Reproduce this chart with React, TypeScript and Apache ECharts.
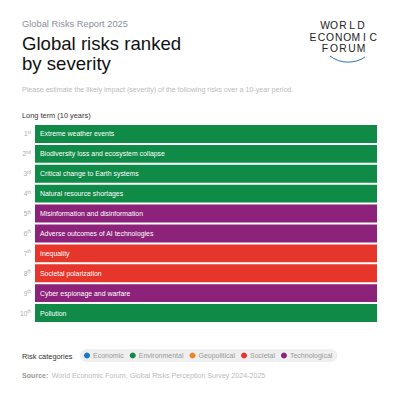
import React, { useEffect, useRef } from "react";
import * as echarts from "echarts";

const rankLabels = ["1st", "2nd", "3rd", "4th", "5th", "6th", "7th", "8th", "9th", "10th"];
const riskNames = [
  "Extreme weather events",
  "Biodiversity loss and ecosystem collapse",
  "Critical change to Earth systems",
  "Natural resource shortages",
  "Misinformation and disinformation",
  "Adverse outcomes of AI technologies",
  "Inequality",
  "Societal polarization",
  "Cyber espionage and warfare",
  "Pollution",
];
const riskCategories = [
  "Environmental",
  "Environmental",
  "Environmental",
  "Environmental",
  "Technological",
  "Technological",
  "Societal",
  "Societal",
  "Technological",
  "Environmental",
];
const barValues = [1, 1, 1, 1, 1, 1, 1, 1, 1, 1];
const categoryNames = ["Economic", "Environmental", "Geopolitical", "Societal", "Technological"];
const categoryColors = ["#1f74c4", "#0f8a47", "#ef8427", "#e6352b", "#8c2279"];

const FONT = "'Liberation Sans', Arial, Helvetica, sans-serif";

function logoLetters(word: string, cx: number, y: number, pitch: number) {
  const n = word.length;
  return word.split("").map((ch, i) => ({
    type: "text",
    x: cx + (i - (n - 1) / 2) * pitch,
    y,
    style: {
      text: ch,
      fill: "#222",
      font: `10.3px ${FONT}`,
      textAlign: "center",
      textVerticalAlign: "middle",
    },
  }));
}

export default function App() {
  const ref = useRef<HTMLDivElement>(null);
  useEffect(() => {
    if (!ref.current) return;
    const chart = echarts.init(ref.current, null, { renderer: "svg" });
    const series = categoryNames.map((cat, ci) => ({
      name: cat,
      type: "bar",
      stack: "all",
      barCategoryGap: "10%",
      itemStyle: { color: categoryColors[ci] },
      data: barValues.map((v, i) => (riskCategories[i] === cat ? v : "-")),
      label: {
        show: true,
        position: "insideLeft",
        distance: 5,
        color: "#fff",
        fontSize: 6.9,
        fontFamily: FONT,
        formatter: (p: any) => riskNames[p.dataIndex],
      },
    }));
    chart.setOption({
      animation: false,
      backgroundColor: "#fff",
      grid: { left: 35, right: 23, top: 124, bottom: 77 },
      xAxis: { type: "value", min: 0, max: 1, show: false },
      yAxis: {
        type: "category",
        inverse: true,
        data: rankLabels,
        axisLine: { show: false },
        axisTick: { show: false },
        axisLabel: {
          margin: 4,
          formatter: (v: string) => {
            const m = v.match(/^(\d+)(\D+)$/);
            return m ? `{n|${m[1]}}{s|${m[2]}}` : v;
          },
          rich: {
            n: { fontSize: 6.5, color: "#aaa", fontFamily: FONT },
            s: { fontSize: 4.5, color: "#aaa", fontFamily: FONT, verticalAlign: "top", padding: [0, 0, 3, 0] },
          },
        },
      },
      legend: {
        data: categoryNames,
        left: 80,
        top: 349,
        orient: "horizontal",
        icon: "circle",
        itemWidth: 6,
        itemHeight: 6,
        itemGap: 6,
        padding: [3, 5, 3, 4],
        backgroundColor: "#efefef",
        borderRadius: 7,
        selectedMode: false,
        textStyle: { color: "#999", fontSize: 7, fontFamily: FONT, padding: [0, 0, 0, -2] },
      },
      graphic: [
        {
          type: "text",
          left: 22,
          top: 19,
          style: { text: "Global Risks Report 2025", fill: "#8a909a", font: `9.3px ${FONT}` },
        },
        {
          type: "text",
          left: 22,
          top: 33,
          style: {
            text: "Global risks ranked\nby severity",
            fill: "#111",
            font: `18.6px ${FONT}`,
            lineHeight: 20,
          },
        },
        ...logoLetters("WORLD", 343, 25, 9),
        ...logoLetters("ECONOMIC", 343, 37, 8.6),
        ...logoLetters("FORUM", 343, 48.5, 9),
        {
          type: "bezierCurve",
          shape: { x1: 330, y1: 56, cpx1: 340, cpy1: 64, cpx2: 355, cpy2: 64, x2: 365, y2: 57 },
          style: { stroke: "#2f6fc0", lineWidth: 1, fill: "none" },
        },
        {
          type: "text",
          left: 22,
          top: 86,
          style: {
            text: "Please estimate the likely impact (severity) of the following risks over a 10-year period.",
            fill: "#bbb",
            font: `7.1px ${FONT}`,
          },
        },
        {
          type: "text",
          left: 22,
          top: 112,
          style: { text: "Long term (10 years)", fill: "#333", font: `7.4px ${FONT}` },
        },
        {
          type: "text",
          left: 22,
          top: 352.5,
          style: { text: "Risk categories", fill: "#333", font: `500 7.4px ${FONT}` },
        },
        {
          type: "text",
          left: 22,
          top: 370,
          style: {
            text: "{b|Source:} {r|World Economic Forum, Global Risks Perception Survey 2024-2025}",
            rich: {
              b: { fill: "#999", font: `bold 7.1px ${FONT}` },
              r: { fill: "#bbb", font: `7.1px ${FONT}` },
            },
          },
        },
      ],
      series,
    });
    return () => chart.dispose();
  }, []);
  return (
    <div
      ref={ref}
      style={{ position: "fixed", left: 0, top: 0, width: 400, height: 400, background: "#fff" }}
    />
  );
}
